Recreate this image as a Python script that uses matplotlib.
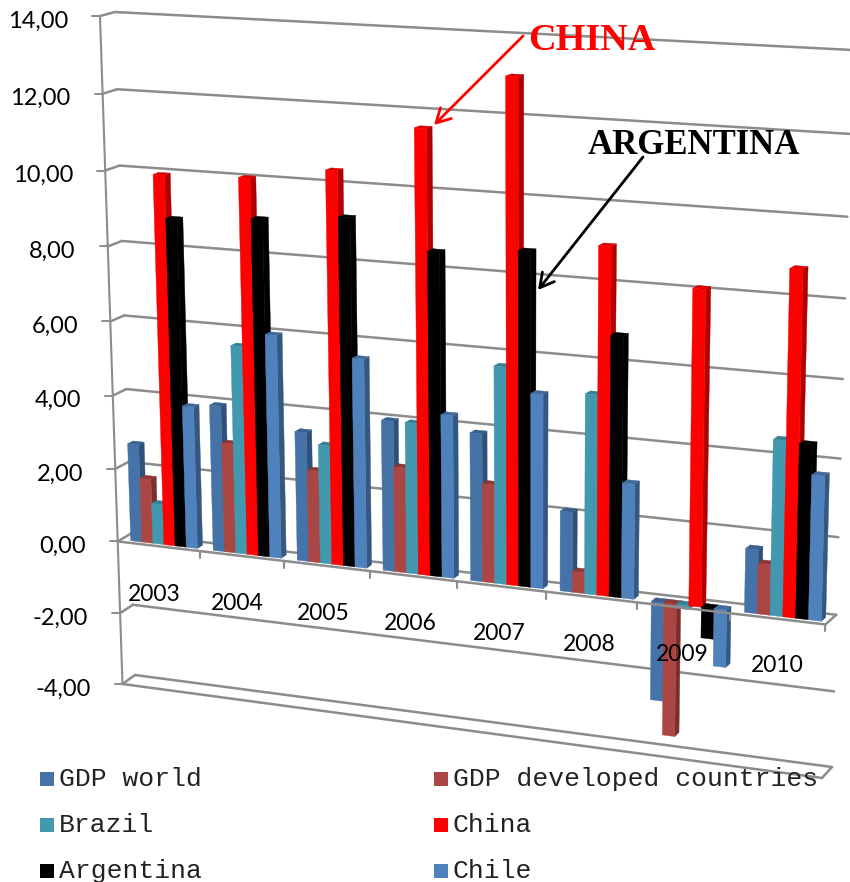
# GDP growth by year, drawn as perspective 3D columns
import numpy as np
import matplotlib
matplotlib.use("Agg")
import matplotlib.pyplot as plt
from matplotlib.patches import Polygon, Rectangle

years = ["2003", "2004", "2005", "2006", "2007", "2008", "2009", "2010"]
yticks = [14, 12, 10, 8, 6, 4, 2, 0, -2, -4]

gdp_world = [2.67, 3.95, 3.47, 4.0, 3.9, 2.1, -2.6, 1.65]
gdp_developed = [1.76, 2.96, 2.47, 2.8, 2.6, 0.55, -3.5, 1.3]
brazil = [1.1, 5.6, 3.18, 4.0, 5.7, 5.2, -0.1, 4.5]
china = [9.95, 10.03, 10.38, 11.6, 13.03, 8.98, 8.1, 8.78]
argentina = [8.82, 8.99, 9.2, 8.5, 8.7, 6.75, -0.8, 4.45]
chile = [3.85, 5.98, 5.56, 4.3, 5.08, 3.0, -1.5, 3.7]

series = [gdp_world, gdp_developed, brazil, china, argentina, chile]
names = ["GDP world", "GDP developed countries", "Brazil", "China", "Argentina", "Chile"]
front_col = ["#4572A7", "#AA4643", "#4198AF", "#FF0000", "#000000", "#4F81BD"]
side_col = ["#2F5078", "#7A2F2D", "#2D6E80", "#B00000", "#000000", "#34587F"]
top_col = ["#3A6090", "#8E3836", "#358294", "#D80000", "#000000", "#41699A"]

grid_col = "#8C8C8C"


def homography(dst):
    # maps (category, value) on the box onto image pixels
    src = [(0, 14), (8, 14), (0, -4), (8, -4)]
    a, b = [], []
    for (s, t), (x, y) in zip(src, dst):
        a.append([s, t, 1, 0, 0, 0, -s * x, -t * x])
        a.append([0, 0, 0, s, t, 1, -s * y, -t * y])
        b += [x, y]
    return np.append(np.linalg.solve(np.array(a, float), np.array(b, float)), 1).reshape(3, 3)


H_front = homography([(100, 16), (838, 56), (122.5, 684), (822, 778)])
H_back = homography([(115, 12), (852, 50), (135, 675), (832, 767)])


def project(t, v, d=0.0):
    # d = 0 is the front of the box, d = 1 the back wall
    p = H_front @ [t, v, 1]
    q = H_back @ [t, v, 1]
    return (1 - d) * p[:2] / p[2] + d * q[:2] / q[2]


fig = plt.figure(figsize=(8.5, 8.82), dpi=100)
ax = fig.add_axes([0, 0, 1, 1])
ax.set_xlim(0, 850)
ax.set_ylim(882, 0)
ax.axis("off")


def line(a, b, lw=1.8, color=grid_col, z=1):
    ax.plot([a[0], b[0]], [a[1], b[1]], color=color, lw=lw, zorder=z, solid_capstyle="round")


# back wall gridlines, their returns to the front edge and the value ticks
n = len(years)
for v in yticks:
    line(project(0, v, 1), project(n, v, 1))
    line(project(0, v, 0), project(0, v, 1))
    left = project(0, v, 0)
    line(left, left - np.array([8, 0]), lw=1.4)
    ax.text(left[0] - 32, left[1] + 5, f"{v},00", ha="right", va="center",
            fontsize=17, family="Lato", color="black", zorder=6)
line(project(0, 14, 0), project(0, -4, 0), lw=1.5)

# floor outline at the bottom of the value range
line(project(0, -4, 0), project(n, -4, 0))
line(project(n, -4, 0), project(n, -4, 1))

# columns, left to right so each one hides the side of the previous one
bar_w = 0.135
d0, d1 = 0.25, 0.65
z = 2
for i in range(n):
    for j, vals in enumerate(series):
        v = vals[i]
        x0 = i + 0.12 + j * bar_w
        x1 = x0 + bar_w
        hi = max(v, 0)
        lo = min(v, 0)
        side = [project(x1, hi, d0), project(x1, hi, d1), project(x1, lo, d1), project(x1, lo, d0)]
        top = [project(x0, hi, d0), project(x1, hi, d0), project(x1, hi, d1), project(x0, hi, d1)]
        front = [project(x0, hi, d0), project(x1, hi, d0), project(x1, lo, d0), project(x0, lo, d0)]
        for pts, col in ((side, side_col[j]), (top, top_col[j]), (front, front_col[j])):
            ax.add_patch(Polygon(pts, closed=True, fc=col, ec=col, lw=0.3, zorder=z))
            z += 0.001

# category axis along the zero level
z_axis = z + 1
line(project(0, 0, 0), project(n, 0, 0), z=z_axis)
line(project(n, 0, 0), project(n, 0, 1), z=z_axis)
for i in range(1, n + 1):
    p = project(i, 0, 0)
    line(p, p + np.array([0, 7]), lw=1.5, z=z_axis)

for i, label in enumerate(years):
    p = project(0.424 + 1.011 * i, -1.35 + 0.02 * i, 0)
    ax.text(p[0], p[1], label, ha="center", va="center", fontsize=16.5, family="Lato", color="black", zorder=z_axis + 1)

# callouts
ax.annotate("", xy=(434, 125), xytext=(523, 36), zorder=z_axis + 2,
            arrowprops=dict(arrowstyle="->,head_length=1.0,head_width=0.55", color="#FF0000", lw=2,
                            shrinkA=0, shrinkB=0))
ax.text(528, 41, "CHINA", color="#FF0000", fontsize=27.5, family="Liberation Serif", weight="bold",
        va="center", ha="left", zorder=z_axis + 2)
ax.annotate("", xy=(538, 290), xytext=(643, 157), zorder=z_axis + 2,
            arrowprops=dict(arrowstyle="->,head_length=1.0,head_width=0.55", color="black", lw=2,
                            shrinkA=0, shrinkB=0))
ax.text(588, 145, "ARGENTINA", color="black", fontsize=25, family="Liberation Serif", weight="bold",
        va="center", ha="left", zorder=z_axis + 2)

# legend, two columns
legend_x = [40, 434]
legend_y = [779, 825, 871]
for k, name in enumerate(names):
    x = legend_x[k % 2]
    y = legend_y[k // 2]
    ax.add_patch(Rectangle((x, y - 7), 14, 14, fc=front_col[k], ec="none", zorder=z_axis + 2))
    ax.text(x + 19, y, name, fontsize=19, family="Liberation Mono", color="#222222", va="center", ha="left",
            zorder=z_axis + 2)

fig.savefig("out.png", dpi=100)
